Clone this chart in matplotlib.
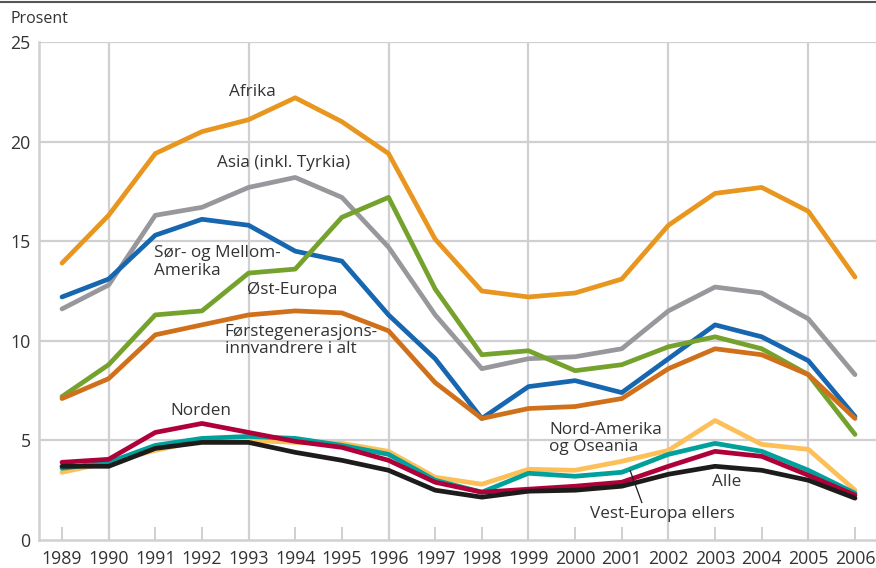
import numpy as np
import matplotlib
matplotlib.use("Agg")
import matplotlib.pyplot as plt

plt.rcParams['font.family'] = ['Open Sans', 'DejaVu Sans']

years = list(range(1989, 2007))

afrika = [13.9, 16.3, 19.4, 20.5, 21.1, 22.2, 21.0, 19.4, 15.1, 12.5, 12.2, 12.4, 13.1, 15.8, 17.4, 17.7, 16.5, 13.2]
asia = [11.6, 12.8, 16.3, 16.7, 17.7, 18.2, 17.2, 14.7, 11.3, 8.6, 9.1, 9.2, 9.6, 11.5, 12.7, 12.4, 11.1, 8.3]
sor_mellom_amerika = [12.2, 13.1, 15.3, 16.1, 15.8, 14.5, 14.0, 11.3, 9.1, 6.1, 7.7, 8.0, 7.4, 9.1, 10.8, 10.2, 9.0, 6.2]
ost_europa = [7.2, 8.8, 11.3, 11.5, 13.4, 13.6, 16.2, 17.2, 12.6, 9.3, 9.5, 8.5, 8.8, 9.7, 10.2, 9.6, 8.3, 5.3]
forstegen = [7.1, 8.1, 10.3, 10.8, 11.3, 11.5, 11.4, 10.5, 7.9, 6.1, 6.6, 6.7, 7.1, 8.6, 9.6, 9.3, 8.3, 6.1]
nord_amerika = [3.4, 3.9, 4.5, 5.0, 5.0, 4.9, 4.85, 4.45, 3.15, 2.8, 3.55, 3.5, 3.95, 4.5, 6.0, 4.8, 4.55, 2.5]
vest_europa = [3.6, 3.9, 4.75, 5.1, 5.2, 5.1, 4.75, 4.3, 3.0, 2.4, 3.35, 3.2, 3.4, 4.3, 4.85, 4.45, 3.5, 2.35]
norden = [3.9, 4.05, 5.4, 5.85, 5.4, 4.95, 4.65, 4.0, 2.9, 2.4, 2.55, 2.7, 2.9, 3.7, 4.45, 4.2, 3.25, 2.25]
alle = [3.7, 3.7, 4.6, 4.9, 4.9, 4.4, 4.0, 3.5, 2.5, 2.15, 2.45, 2.5, 2.7, 3.3, 3.7, 3.5, 3.0, 2.1]

fig = plt.figure(figsize=(8.76, 5.68), dpi=100)
ax = fig.add_axes([39 / 876, 28 / 568, 837 / 876, 498 / 568])

lw = 3.4
grid_c = '#d0d0d2'
text_c = '#333333'

# horizontal and vertical grid
for v in [5, 10, 15, 20, 25]:
    ax.axhline(v, color=grid_c, lw=1.6, zorder=0)
for yr in range(1990, 2006, 3):
    ax.axvline(yr, color=grid_c, lw=1.6, zorder=0)

ax.plot(years, asia, color='#98989c', lw=lw, solid_capstyle='round')
ax.plot(years, afrika, color='#e8961e', lw=lw, solid_capstyle='round')
ax.plot(years, sor_mellom_amerika, color='#1767b0', lw=lw, solid_capstyle='round')
ax.plot(years, ost_europa, color='#75a22c', lw=lw, solid_capstyle='round')
ax.plot(years, forstegen, color='#d1701a', lw=lw, solid_capstyle='round')
ax.plot(years, nord_amerika, color='#fdbf57', lw=lw, solid_capstyle='round')
ax.plot(years, vest_europa, color='#00a19a', lw=lw, solid_capstyle='round')
ax.plot(years, norden, color='#b0003a', lw=lw, solid_capstyle='round')
ax.plot(years, alle, color='#1e1b1b', lw=lw, solid_capstyle='round')

ax.set_xlim(1988.507, 2006.45)
ax.set_ylim(0, 25)
ax.set_xticks(years)
ax.set_yticks([0, 5, 10, 15, 20, 25])
ax.tick_params(axis='x', direction='in', length=9.5, width=1.4, color=grid_c,
               labelsize=12.8, labelcolor=text_c, pad=7)
ax.tick_params(axis='y', length=0, labelsize=12.8, labelcolor=text_c, pad=6)

for s in ['top', 'right']:
    ax.spines[s].set_visible(False)
for s in ['left', 'bottom']:
    ax.spines[s].set_color(grid_c)
    ax.spines[s].set_linewidth(1.8)

fs = 12.3
ls = 1.1
ax.text(1993.09, 22.49, 'Afrika', color=text_c, fontsize=fs, ha='center', va='center')
ax.text(1993.74, 18.93, 'Asia (inkl. Tyrkia)', color=text_c, fontsize=fs, ha='center', va='center')
ax.text(1990.97, 13.96, 'Sør- og Mellom-\nAmerika', color=text_c, fontsize=fs, ha='left', va='center',
        linespacing=ls)
ax.text(1992.97, 12.55, 'Øst-Europa', color=text_c, fontsize=fs, ha='left', va='center')
ax.text(1992.49, 10.02, 'Førstegenerasjons-\ninnvandrere i alt', color=text_c, fontsize=fs, ha='left',
        va='center', linespacing=ls)
ax.text(1991.98, 6.48, 'Norden', color=text_c, fontsize=fs, ha='center', va='center')
ax.text(1999.44, 5.10, 'Nord-Amerika\nog Oseania', color=text_c, fontsize=fs, ha='left', va='center',
        linespacing=ls)
ax.text(2002.93, 2.91, 'Alle', color=text_c, fontsize=fs, ha='left', va='center')
ax.text(2000.32, 1.31, 'Vest-Europa ellers', color=text_c, fontsize=fs, ha='left', va='center')
ax.plot([2001.18, 2001.43], [3.48, 1.88], color='#1e1b1b', lw=0.9)

fig.text(11 / 876, 1 - 19 / 568, 'Prosent', color=text_c, fontsize=11.5, ha='left', va='center')
fig.add_artist(plt.Line2D([0, 1], [1 - 1.5 / 568, 1 - 1.5 / 568], color='#555555', lw=1.5))

fig.savefig('out.png', dpi=100)
